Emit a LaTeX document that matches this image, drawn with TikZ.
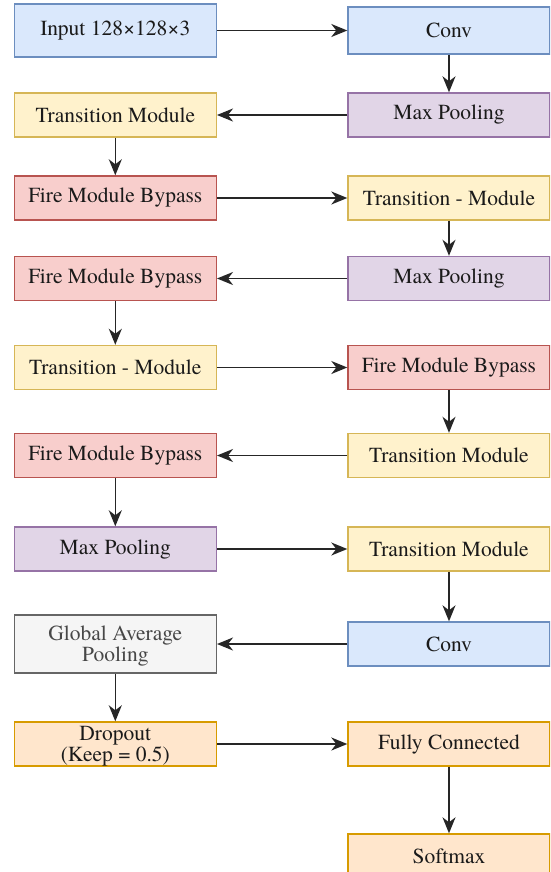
\documentclass[tikz,border=0pt]{standalone}
\usepackage{fontspec}
\setmainfont{TeX Gyre Termes}
\usetikzlibrary{arrows.meta}
\definecolor{blueF}{HTML}{DAE8FC}\definecolor{blueD}{HTML}{6C8EBF}
\definecolor{yelF}{HTML}{FFF2CC}\definecolor{yelD}{HTML}{D6B656}
\definecolor{redF}{HTML}{F8CECC}\definecolor{redD}{HTML}{B85450}
\definecolor{purF}{HTML}{E1D5E7}\definecolor{purD}{HTML}{9673A6}
\definecolor{grayF}{HTML}{F5F5F5}\definecolor{grayD}{HTML}{666666}
\definecolor{orgF}{HTML}{FFE6CC}\definecolor{orgD}{HTML}{D79B00}
\definecolor{txt}{HTML}{1A1A1A}
% two centred lines, set a little lower than the box centre
\newcommand{\twolines}[2]{\raisebox{-3pt}[\height][\depth]{%
  \begin{tabular}{@{}c@{}}#1\\[-1pt]#2\end{tabular}}}
\tikzset{
  box/.style={rectangle, minimum width=202pt, minimum height=44pt, inner sep=0pt,
    line width=1.4pt, align=center, text=txt,
    font=\fontsize{21.5}{22}\selectfont},
  bluebox/.style={box, fill=blueF, draw=blueD},
  yelbox/.style={box, fill=yelF, draw=yelD},
  redbox/.style={box, fill=redF, draw=redD},
  purbox/.style={box, fill=purF, draw=purD},
  graybox/.style={box, fill=grayF, draw=grayD, text=black!72, minimum height=58pt},
  orgbox/.style={box, fill=orgF, draw=orgD},
  flow/.style={line width=1.6pt, draw=black!85, -{Stealth[length=16pt,width=13pt,inset=5pt]}}
}
\begin{document}
\begin{tikzpicture}[x=1pt,y=-1pt]
\useasboundingbox (0,0) rectangle (550,872);
\clip (0,0) rectangle (550,872);
\fill[white] (0,0) rectangle (550,872);
% left column
\node[bluebox, minimum height=53pt] (in)   at (115.3,30.5) {Input 128×128×3};
\node[yelbox] (tm1)  at (115.3,115)  {Transition Module};
\node[redbox] (fb1)  at (115.3,198)  {Fire Module Bypass};
\node[redbox] (fb2)  at (115.3,278.5){Fire Module Bypass};
\node[yelbox] (tm3)  at (115.3,367.5){Transition - Module};
\node[redbox] (fb4)  at (115.3,455.5){Fire Module Bypass};
\node[purbox] (mp3)  at (115.3,549)  {Max Pooling};
\node[graybox](gap)  at (115.3,644)  {\twolines{Global Average}{Pooling}};
\node[orgbox] (drop) at (115.3,744)  {\twolines{Dropout}{(Keep = 0.5)}};
% right column
\node[bluebox, minimum height=47pt] (conv1) at (449,30.5) {Conv};
\node[purbox] (mp1)  at (449,115)  {Max Pooling};
\node[yelbox] (tm2)  at (449,198)  {Transition - Module};
\node[purbox] (mp2)  at (449,278.5){Max Pooling};
\node[redbox] (fb3)  at (449,367.5){Fire Module Bypass};
\node[yelbox] (tm4)  at (449,455.5){Transition Module};
\node[yelbox] (tm5)  at (449,549)  {Transition Module};
\node[bluebox](conv2)at (449,644)  {Conv};
\node[orgbox] (fc)   at (449,744)  {Fully Connected};
\node[orgbox] (soft) at (449,856)  {Softmax};
% connectors
\draw[flow] (in) -- (conv1);
\draw[flow] (conv1) -- (mp1);
\draw[flow] (mp1) -- (tm1);
\draw[flow] (tm1) -- (fb1);
\draw[flow] (fb1) -- (tm2);
\draw[flow] (tm2) -- (mp2);
\draw[flow] (mp2) -- (fb2);
\draw[flow] (fb2) -- (tm3);
\draw[flow] (tm3) -- (fb3);
\draw[flow] (fb3) -- (tm4);
\draw[flow] (tm4) -- (fb4);
\draw[flow] (fb4) -- (mp3);
\draw[flow] (mp3) -- (tm5);
\draw[flow] (tm5) -- (conv2);
\draw[flow] (conv2) -- (gap);
\draw[flow] (gap) -- (drop);
\draw[flow] (drop) -- (fc);
\draw[flow] (fc) -- (soft);
\end{tikzpicture}
\end{document}
